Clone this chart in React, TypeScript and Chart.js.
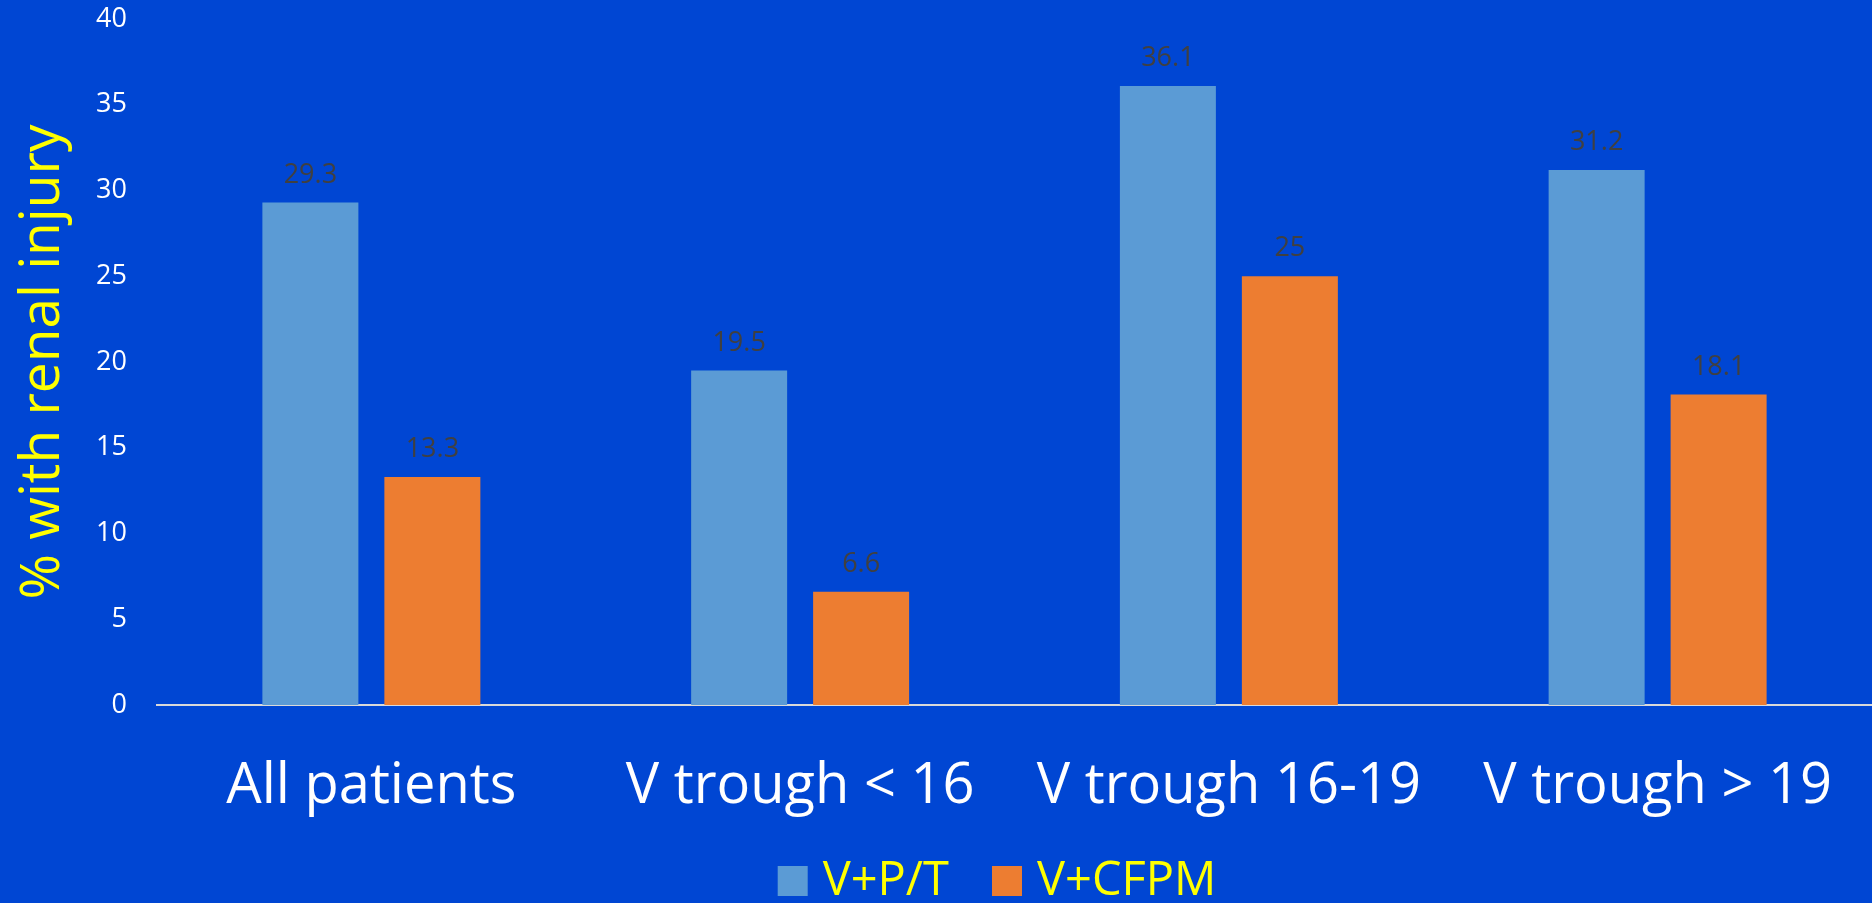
import { useEffect, useRef } from "react";
import { Chart, registerables } from "chart.js";

Chart.register(...registerables);

// Chart data
const categories = ["All patients", "V trough < 16", "V trough 16-19", "V trough > 19"];
const seriesNames = ["V+P/T", "V+CFPM"];
const vptValues = [29.3, 19.5, 36.1, 31.2];
const cfpmValues = [13.3, 6.6, 25, 18.1];
const yMin = 0;
const yMax = 40;
const yStep = 5;
const yAxisTitle = "% with renal injury";

const FONT = "'Open Sans', 'Noto Sans', sans-serif";
const BG = "#0046d3";
const BLUE = "#5b9bd5";
const ORANGE = "#ed7d31";
const YELLOW = "#ffff00";

// Numbers printed above each bar
const valueLabels = {
  id: "valueLabels",
  afterDatasetsDraw(chart: any) {
    const ctx = chart.ctx;
    ctx.save();
    ctx.font = `27px ${FONT}`;
    ctx.fillStyle = "#404040";
    ctx.textAlign = "center";
    ctx.textBaseline = "alphabetic";
    chart.data.datasets.forEach((ds: any, i: number) => {
      chart.getDatasetMeta(i).data.forEach((bar: any, j: number) => {
        ctx.fillText(String(ds.data[j]), bar.x, bar.y - 20);
      });
    });
    ctx.restore();
  },
};

// Legend row along the bottom edge
const bottomLegend = {
  id: "bottomLegend",
  afterDraw(chart: any) {
    const ctx = chart.ctx;
    ctx.save();
    ctx.font = `47px ${FONT}`;
    ctx.textAlign = "left";
    ctx.textBaseline = "alphabetic";
    const boxW = 30;
    const boxH = 30;
    const gap = 15;
    const spacing = 43;
    const items = chart.data.datasets.map((ds: any) => ({
      text: ds.label as string,
      color: ds.backgroundColor as string,
      w: ctx.measureText(ds.label).width as number,
    }));
    const total =
      items.reduce((s: number, it: any) => s + boxW + gap + it.w, 0) +
      spacing * (items.length - 1);
    let x = 997 - total / 2;
    const boxTop = 866;
    const baseline = 895;
    items.forEach((it: any) => {
      ctx.fillStyle = it.color;
      ctx.fillRect(x, boxTop, boxW, boxH);
      x += boxW + gap;
      ctx.fillStyle = YELLOW;
      ctx.fillText(it.text, x, baseline);
      x += it.w + spacing;
    });
    ctx.restore();
  },
};

export default function App() {
  const canvasRef = useRef<HTMLCanvasElement | null>(null);

  useEffect(() => {
    document.body.style.margin = "0";
    document.body.style.background = BG;
    const canvas = canvasRef.current;
    if (!canvas) return;

    const chart = new Chart(canvas, {
      type: "bar",
      data: {
        labels: categories,
        datasets: [
          {
            label: seriesNames[0],
            data: vptValues,
            backgroundColor: BLUE,
            categoryPercentage: 0.569,
            barPercentage: 0.787,
          },
          {
            label: seriesNames[1],
            data: cfpmValues,
            backgroundColor: ORANGE,
            categoryPercentage: 0.569,
            barPercentage: 0.787,
          },
        ],
      },
      options: {
        responsive: false,
        animation: false,
        events: [],
        layout: { padding: { top: 19, right: 0, bottom: 73, left: 0 } },
        plugins: {
          legend: { display: false },
          tooltip: { enabled: false },
        },
        scales: {
          x: {
            grid: { display: false, drawTicks: true, tickLength: 48 },
            border: { display: true, color: "#d9d9d9", width: 2 },
            ticks: {
              color: "#ffffff",
              font: { family: FONT, size: 56 },
              padding: 0,
              maxRotation: 0,
              autoSkip: false,
            },
            afterFit(scale: any) {
              scale.height = 125;
            },
          },
          y: {
            min: yMin,
            max: yMax,
            ticks: {
              stepSize: yStep,
              color: "#ffffff",
              font: { family: FONT, size: 27 },
              padding: 0,
            },
            grid: { display: false, drawTicks: true, tickLength: 30 },
            border: { display: false },
            title: {
              display: true,
              text: yAxisTitle,
              color: YELLOW,
              font: { family: FONT, size: 55 },
              padding: { top: 10, bottom: 0 },
            },
            afterFit(scale: any) {
              scale.width = 157;
            },
          },
        },
      },
      plugins: [valueLabels, bottomLegend],
    });

    return () => chart.destroy();
  }, []);

  return (
    <div style={{ width: 1872, height: 903, background: BG }}>
      <canvas ref={canvasRef} width={1872} height={903} style={{ display: "block" }} />
    </div>
  );
}
